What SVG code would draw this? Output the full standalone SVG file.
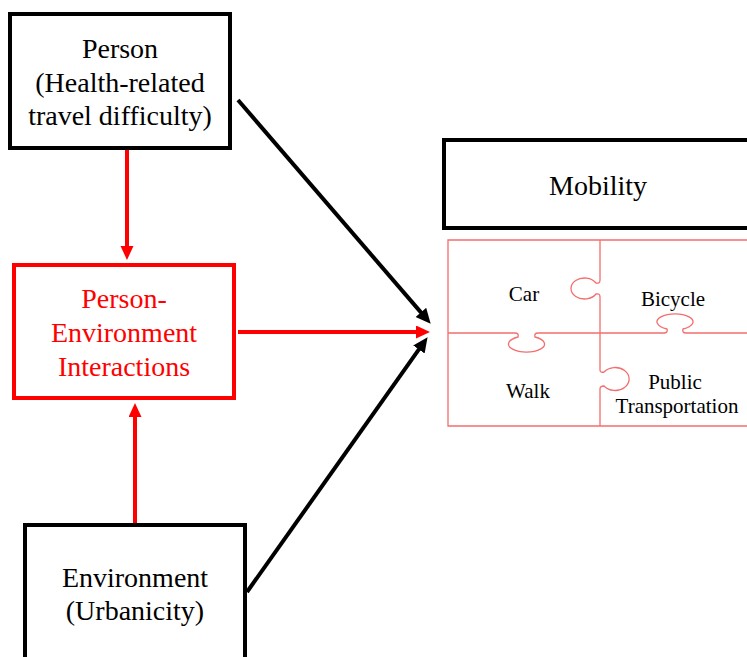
<svg xmlns="http://www.w3.org/2000/svg" width="747" height="657" viewBox="0 0 747 657">
  <style>
    .box { fill: #fff; stroke-width: 4; }
    .blk { stroke: #000; }
    .red { stroke: #ff0000; }
    .lbl { font-family: "Liberation Serif", "Times New Roman", serif; font-size: 28px; text-anchor: middle; fill: #000; }
    .lbl.r { fill: #ff0000; }
    .pz { fill: none; stroke: #f36e6e; stroke-width: 1.3; }
    .pzt { font-family: "Liberation Serif", "Times New Roman", serif; font-size: 21px; text-anchor: middle; fill: #000; }
    .conn { fill: none; stroke-width: 4; }
  </style>
  <defs>
    <marker id="headRed" markerUnits="userSpaceOnUse" markerWidth="16" markerHeight="14" refX="4" refY="6.5" orient="auto">
      <path d="M0,0 L14,6.5 L0,13 z" fill="#ff0000"/>
    </marker>
    <marker id="headBlk" markerUnits="userSpaceOnUse" markerWidth="17" markerHeight="15" refX="4" refY="7" orient="auto">
      <path d="M0,0 L15,7 L0,14 z" fill="#000"/>
    </marker>
  </defs>

  <rect width="747" height="657" fill="#fff"/>

  <g id="person">
    <rect class="box blk" x="10" y="14" width="220" height="134"/>
    <text class="lbl" x="120" y="58">Person</text>
    <text class="lbl" x="120" y="92">(Health-related</text>
    <text class="lbl" x="120" y="125">travel difficulty)</text>
  </g>

  <g id="interactions">
    <rect class="box red" x="14" y="265" width="220" height="133"/>
    <text class="lbl r" x="124" y="308">Person-</text>
    <text class="lbl r" x="124" y="342">Environment</text>
    <text class="lbl r" x="124" y="376">Interactions</text>
  </g>

  <g id="environment">
    <rect class="box blk" x="25" y="525" width="220" height="150"/>
    <text class="lbl" x="135" y="587">Environment</text>
    <text class="lbl" x="135" y="620">(Urbanicity)</text>
  </g>

  <g id="mobility">
    <rect class="box blk" x="444" y="140" width="320" height="88"/>
    <text class="lbl" x="598" y="195">Mobility</text>
  </g>

  <g id="modes">
    <!-- outer frame of the jigsaw -->
    <path class="pz" d="M760,240 H448 V426 H760"/>
    <!-- vertical seam with Car and Public tabs -->
    <path class="pz" d="M600,240 V280 Q600,284 596,283 A13.5,10.5 0 1 0 596,294 Q600,293 600,297 V370 Q600,373 604,372 A14,11.5 0 1 1 604,386 Q600,386 600,389 V426"/>
    <!-- horizontal seam with Walk and Bicycle tabs -->
    <path class="pz" d="M448,333 H515 Q519,333 518,337 A18,8 0 1 0 535,337 Q534,333 538,333 H664 Q668,333 667,329 A18,8 0 1 1 683,329 Q682,333 686,333 H760"/>
    <text class="pzt" x="524" y="301">Car</text>
    <text class="pzt" x="673" y="306">Bicycle</text>
    <text class="pzt" x="528" y="398">Walk</text>
    <text class="pzt" x="675" y="389">Public</text>
    <text class="pzt" x="677" y="413">Transportation</text>
  </g>

  <g id="connectors">
    <line class="conn red" x1="127" y1="150" x2="127" y2="250" marker-end="url(#headRed)"/>
    <line class="conn red" x1="135" y1="523" x2="135" y2="413" marker-end="url(#headRed)"/>
    <line class="conn red" x1="238" y1="332" x2="420" y2="332" marker-end="url(#headRed)"/>
    <line class="conn blk" x1="238" y1="100" x2="423.5" y2="315.4" marker-end="url(#headBlk)"/>
    <line class="conn blk" x1="247" y1="592" x2="421.2" y2="346.2" marker-end="url(#headBlk)"/>
  </g>
</svg>
